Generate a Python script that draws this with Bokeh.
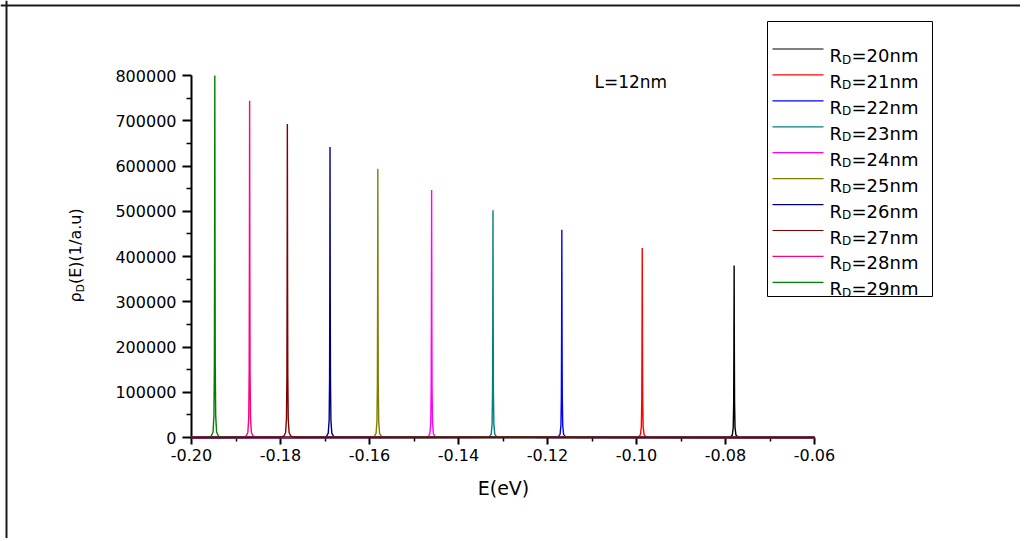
import math
from bokeh.plotting import figure
from bokeh.models import (FixedTicker, NumeralTickFormatter, Label, BoxAnnotation,
                          Arrow, Range1d, Span)
from bokeh.embed import file_html
from bokeh.resources import INLINE

# ---------------- data ----------------
radius_nm = [20, 21, 22, 23, 24, 25, 26, 27, 28, 29]
peak_energy_eV = [-0.07806, -0.09871, -0.11678, -0.13225, -0.14604,
                  -0.15813, -0.16887, -0.17846, -0.18694, -0.19476]
peak_height = [380000, 419000, 459000, 502000, 547000,
               594000, 642000, 693000, 744000, 800000]
series_colors = ["#000000", "#FF0000", "#0000FF", "#008080", "#FF00FF",
                 "#808000", "#000080", "#800000", "#FF0080", "#008000"]
# shape of one peak: energy offsets from the centre and fraction of peak height
peak_profile_dE = [-0.0016, -0.0008, -0.0004, -0.0002, -0.0001, -0.00005, 0.0,
                   0.00005, 0.0001, 0.0002, 0.0004, 0.0008, 0.0016]
peak_profile_frac = [0.001, 0.004, 0.015, 0.059, 0.2, 0.5, 1.0,
                     0.5, 0.2, 0.059, 0.015, 0.004, 0.001]
energy_span = [-0.20, -0.06]
rho_span = [0, 800000]
x_major_ticks = [-0.20, -0.18, -0.16, -0.14, -0.12, -0.10, -0.08, -0.06]
x_minor_ticks = [-0.19, -0.17, -0.15, -0.13, -0.11, -0.09, -0.07]
y_major_ticks = [0, 100000, 200000, 300000, 400000, 500000, 600000, 700000, 800000]
y_minor_ticks = [50000, 150000, 250000, 350000, 450000, 550000, 650000, 750000]
annotation_text = "L=12nm"
x_label = "E(eV)"
y_label_parts = ["\u03c1", "D", "(E)(1/a.u)"]
legend_prefix = "R"
legend_sub = "D"
legend_suffix = ["=%dnm" % r for r in radius_nm]

# ---------------- layout (page pixels) ----------------
FONT = "DejaVu Sans"
W, H = 1020, 538
CX0, CY0 = 0, 0                    # canvas origin on the page
X0_PX, X1_PX = 191, 814            # page x of -0.20 and -0.06
Y0_PX, Y1_PX = 437, 75             # page y of 0 and 800000

kx = (X1_PX - X0_PX) / (energy_span[1] - energy_span[0])
ky = (Y0_PX - Y1_PX) / (rho_span[1] - rho_span[0])
x_start = energy_span[0] - (X0_PX - CX0) / kx
x_end = energy_span[0] + (CX0 + W - X0_PX) / kx
y_start = rho_span[0] - (CY0 + H - Y0_PX) / ky
y_end = rho_span[0] + (Y0_PX - CY0) / ky

p = figure(width=W, height=H, output_backend="svg", toolbar_location=None,
           x_range=Range1d(x_start, x_end), y_range=Range1d(y_start, y_end),
           min_border=0)
p.outline_line_color = None
p.grid.visible = False
p.background_fill_color = "white"
p.border_fill_color = "white"

# axes, drawn inside the frame at their data positions
for ax in (p.xaxis[0], p.yaxis[0]):
    ax.axis_line_width = 2
    ax.axis_line_color = "black"
    ax.major_tick_line_width = 2
    ax.minor_tick_line_width = 1.5
    ax.major_tick_in = 0
    ax.minor_tick_in = 0
    ax.major_label_text_font = FONT
    ax.major_label_text_font_size = "16px"
    ax.major_label_text_color = "black"

xa = p.xaxis[0]
xa.fixed_location = rho_span[0]
xa.bounds = (energy_span[0], energy_span[1])
xa.ticker = FixedTicker(ticks=x_major_ticks, minor_ticks=x_minor_ticks)
xa.formatter = NumeralTickFormatter(format="0.00")
xa.major_tick_out = 7
xa.minor_tick_out = 4
xa.major_label_standoff = 4

ya = p.yaxis[0]
ya.fixed_location = energy_span[0]
ya.bounds = (rho_span[0], rho_span[1])
ya.ticker = FixedTicker(ticks=y_major_ticks, minor_ticks=y_minor_ticks)
ya.formatter = NumeralTickFormatter(format="0")
ya.major_tick_out = 9
ya.minor_tick_out = 5
ya.major_label_standoff = 6

# series (maroon drawn last so its baseline shows on the axis)
draw_order = [0, 1, 2, 3, 4, 5, 6, 8, 9, 7]
for i in draw_order:
    xs = [energy_span[0]] + [peak_energy_eV[i] + d for d in peak_profile_dE] + [energy_span[1]]
    ys = [0] + [peak_height[i] * f for f in peak_profile_frac] + [0]
    p.line(xs, ys, line_color=series_colors[i], line_width=1.4, level="overlay")


def sx(px):
    return px - CX0


def sy(py):
    return CY0 + H - py


def label(text, px, py, size, angle=0.0, align="left", baseline="alphabetic"):
    p.add_layout(Label(x=sx(px), y=sy(py), x_units="screen", y_units="screen",
                       text=text, text_font=FONT, text_font_size=size,
                       text_color="black", text_align=align, text_baseline=baseline,
                       angle=angle))

# outer picture border (left and top edges)
p.add_layout(Span(location=sx(6), location_units="screen", dimension="height",
                  line_color="#1a1a1a", line_width=2))
p.add_layout(Span(location=sy(5), location_units="screen", dimension="width",
                  line_color="#1a1a1a", line_width=2))

# annotation
label(annotation_text, 594, 81, "17px")

# axis titles
label(x_label, 503, 487, "19px", align="center")
label(y_label_parts[0], 75, 302, "16px", angle=math.pi / 2)
label(y_label_parts[1], 79, 291.8, "10.5px", angle=math.pi / 2)
label(y_label_parts[2], 75, 283.5, "16px", angle=math.pi / 2)

# legend
p.add_layout(BoxAnnotation(left=sx(767), right=sx(932), top=sy(21), bottom=sy(296),
                           left_units="screen", right_units="screen",
                           top_units="screen", bottom_units="screen",
                           fill_color="white", fill_alpha=1.0,
                           line_color="black", line_width=1, line_alpha=1.0,
                           level="underlay"))
ROW0, ROW_STEP = 48.5, 25.93
for k in range(len(radius_nm)):
    ly = ROW0 + ROW_STEP * k
    p.add_layout(Arrow(x_start=sx(772), y_start=sy(ly), x_end=sx(823), y_end=sy(ly),
                       start_units="screen", end_units="screen", end=None,
                       line_color=series_colors[k], line_width=1.2))
    label(legend_prefix, 829, ly + 6.5, "18px")
    label(legend_sub, 841.5, ly + 10.5, "12px")
    label(legend_suffix[k], 851, ly + 6.5, "18px")

open("out.html", "w").write(file_html(p, INLINE))
